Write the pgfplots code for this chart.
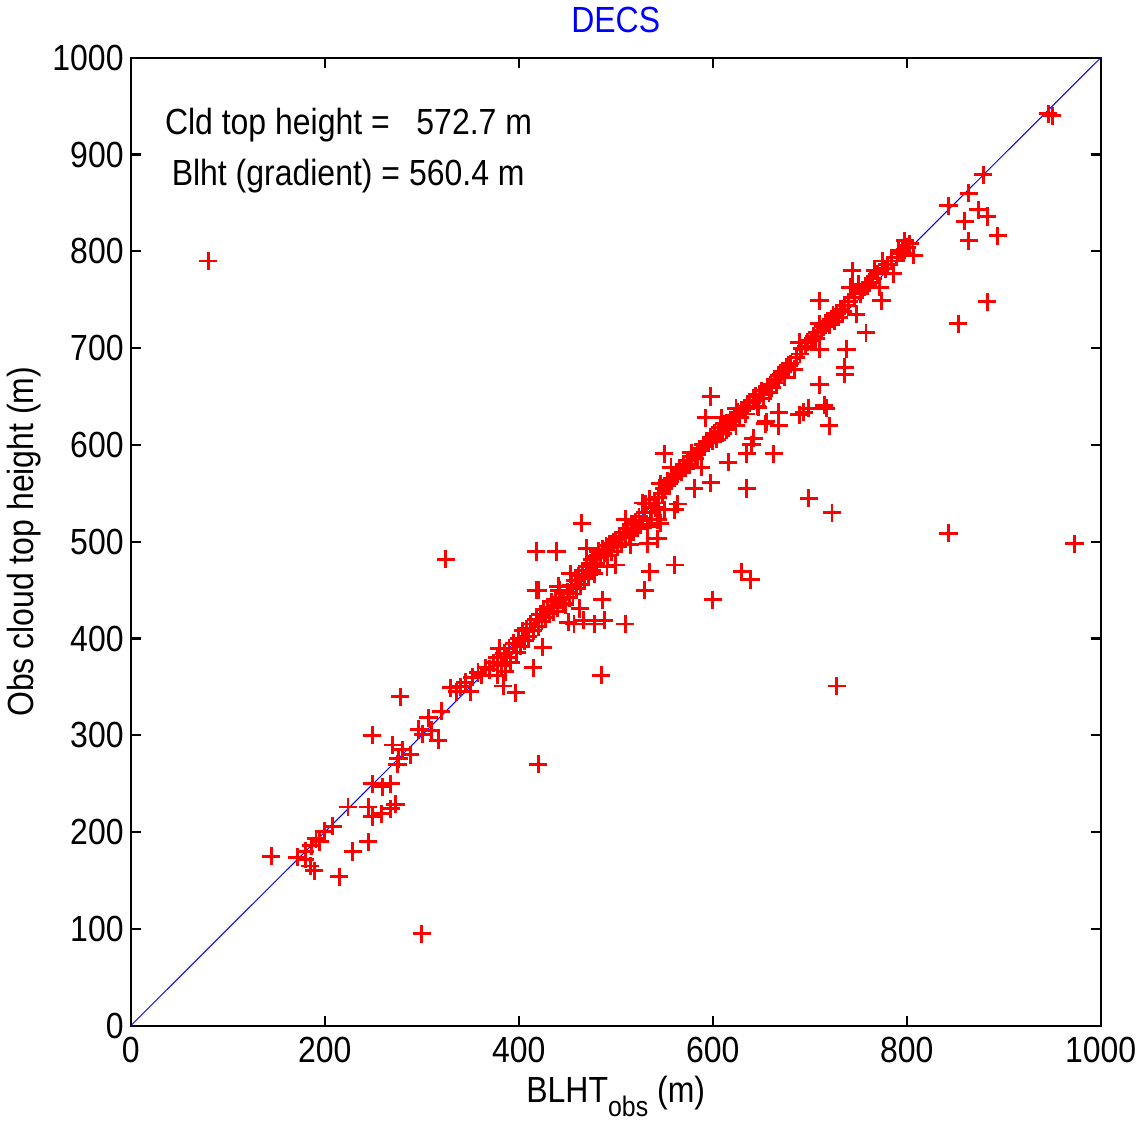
\documentclass[border=0pt]{standalone}
\usepackage{pgfplots}
\pgfplotsset{compat=1.18}
\usepackage{fontspec}
\setmainfont{Liberation Sans}[FakeStretch=0.88]
\begin{document}
\begin{tikzpicture}
\begin{axis}[
  scale only axis, width=480.5pt, height=479.5pt,
  xmin=0, xmax=1000, ymin=0, ymax=1000,
  xtick={0,200,...,1000}, ytick={0,100,...,1000},
  tick align=inside, major tick length=5pt,
  axis line style={line width=1.1pt}, every tick/.style={line width=1.1pt, black},
  tick label style={font=\fontsize{18}{21}\selectfont},
  /pgf/number format/assume math mode=true,
  /pgf/number format/1000 sep={},
  xticklabel style={yshift=-2pt},
  title={\textcolor{blue}{DECS}}, title style={font=\fontsize{18}{21}\selectfont, yshift=3pt},
  xlabel={BLHT\raisebox{-7pt}{\fontsize{14}{16}\selectfont obs} (m)}, xlabel style={font=\fontsize{18}{21}\selectfont, yshift=0pt},
  ylabel={Obs cloud top height (m)}, ylabel style={font=\fontsize{18}{21}\selectfont, yshift=-1pt},
]
\addplot[blue, line width=0.5pt] coordinates {(0,0) (1000,1000)};
\addplot[only marks, mark=+, mark size=4.5pt, red, mark options={line width=1.45pt}] coordinates {
(80,790) (145,175) (300,95) (325,482) (420,270) (485,362) (600,440) (630,469) (639,461)
(699,545) (723,530) (728,351) (843,509) (973,498) (853,725) (883,748) (894,816) (864,811)
(860,831) (843,847) (874,843) (883,836) (864,860) (879,879) (946,942) (950,940)
(172,174) (180,172) (186,186) (191,193) (200,201) (208,206) (189,160) (185,165) (215,154)
(224,226) (229,180) (245,190) (245,226) (249,216) (259,219) (268,224) (273,229) (249,250)
(260,247) (268,250) (249,300) (270,290) (276,276) (288,280) (278,340) (297,306) (307,318)
(317,295) (301,301) (310,305) (320,325) (280,285) (275,270) (195,190) (180,180)
(330,349) (336,345) (340,350) (345,355) (350,345) (352,360) (358,365)
(362,362) (366,370) (370,368) (374,375) (378,380) (378,362) (380,390) (386,366)
(382,372) (384,351) (385,385) (387,380) (390,390) (392,375) (395,395) (397,344) (398,386)
(400,400) (402,392) (404,408) (406,398) (408,410) (410,402) (412,415) (415,370) (415,408) (418,420) (418,450) (418,490)
(420,412) (420,450) (422,425) (424,418) (425,391) (426,430) (428,422) (430,432) (432,426) (434,438) (436,428) (438,440) (439,490) (441,454)
(440,432) (442,450) (444,442) (446,436) (448,435) (450,448) (451,417) (452,442) (453,467) (454,455) (456,446) (457,415) (458,460) (460,452)
(462,465) (463,431) (464,456) (465,519) (466,470) (467,419) (468,462) (470,493) (470,474) (472,466) (474,478) (475,470) (476,482) (478,467) (478,415) (479,485)
(480,478) (482,490) (484,484) (486,440) (486,492) (488,419) (488,488) (490,496) (491,474) (492,486) (494,498) (496,490) (498,500) (500,476)
(500,502) (502,495) (504,505) (506,498) (508,510) (510,415) (510,523) (510,504) (512,514) (514,506) (515,497) (516,518) (518,510)
(520,520) (522,514) (524,526) (526,518) (528,540) (530,450) (530,530) (531,539) (533,498) (533,516) (535,469) (535,544) (536,523) (537,530)
(540,540) (541,535) (543,503) (543,523) (544,546) (546,519) (546,560) (548,550) (550,533) (550,591) (550,555) (553,558) (553,563) (555,560) (557,577) (558,565)
(561,533) (561,476) (562,568) (564,539) (564,570) (566,575) (568,572) (570,580) (572,576) (574,584) (576,580) (578,592) (578,588)
(581,555) (582,586) (584,590) (586,594) (588,577) (588,596) (590,600) (592,598) (593,628) (594,604) (596,602) (598,561) (598,650) (598,608)
(600,604) (602,612) (604,606) (606,614) (608,618) (609,628) (610,612) (612,622) (614,616) (616,582) (616,618) (618,626)
(620,624) (622,630) (624,638) (624,620) (626,634) (628,628) (630,636) (633,638) (634,632) (635,591) (635,555) (636,640) (638,644) (640,600)
(642,607) (642,646) (644,650) (646,640) (647,639) (648,652) (650,656) (652,648) (654,622) (655,624) (656,660) (658,654) (660,662)
(661,659) (663,591) (664,668) (666,664) (668,634) (668,620) (668,672) (670,673) (672,676) (674,670) (676,680) (678,682)
(680,684) (684,678) (686,690) (689,631) (689,706) (690,694) (692,700) (694,634) (696,702) (698,706) (699,638)
(702,708) (704,712) (706,710) (708,716) (710,749) (710,725) (710,699) (710,662) (712,718) (714,722) (715,641) (716,724) (717,638) (718,728)
(720,620) (720,724) (722,730) (724,734) (726,728) (728,736) (730,732) (732,740) (734,738) (736,680) (736,673) (736,744) (738,699)
(740,748) (742,763) (744,780) (744,763) (746,752) (748,735) (750,766) (752,756) (754,760) (757,763) (758,716) (760,766)
(762,768) (765,772) (767,780) (770,777) (772,763) (774,749) (775,790) (778,782) (780,786) (784,790) (786,777) (790,794) (792,801) (795,798) (797,798) (798,811) (800,804) (803,808) (807,796)
};
\node[anchor=west, font=\fontsize{18}{21}\selectfont] at (axis cs:28,930) {Cld top height =\ \ \ 572.7 m};
\node[anchor=west, font=\fontsize{18}{21}\selectfont] at (axis cs:35,878) {Blht (gradient) = 560.4 m};
\end{axis}
\end{tikzpicture}
\end{document}
